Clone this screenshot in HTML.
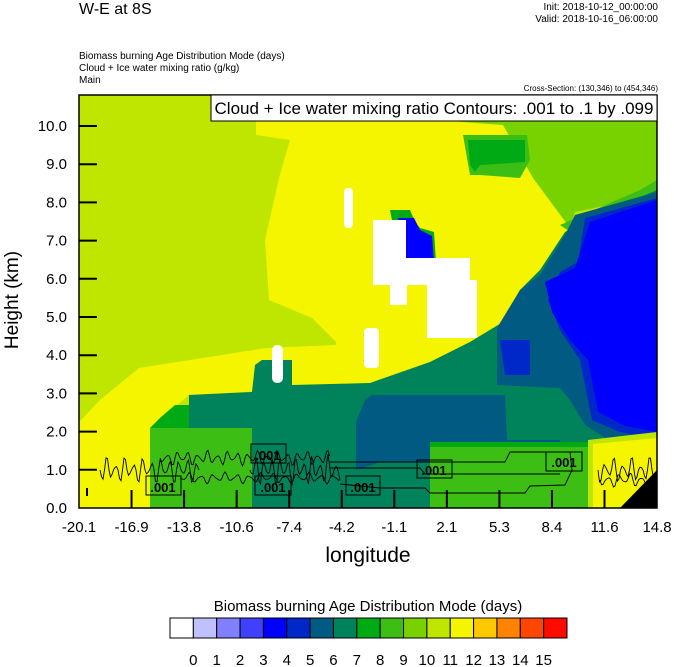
<!DOCTYPE html>
<html><head><meta charset="utf-8"><style>
html,body{margin:0;padding:0;background:#fff;}
svg{display:block;font-family:"Liberation Sans",Arial,sans-serif;}
</style></head><body>
<svg id="s" width="674" height="667" viewBox="0 0 674 667" xmlns="http://www.w3.org/2000/svg">
<text x="79" y="14" font-size="16">W-E at 8S</text>
<text x="658" y="10" font-size="10" text-anchor="end">Init: 2018-10-12_00:00:00</text>
<text x="658" y="22" font-size="10" text-anchor="end">Valid: 2018-10-16_06:00:00</text>
<text x="79" y="59" font-size="10">Biomass burning Age Distribution Mode    (days)</text>
<text x="79" y="71" font-size="10">Cloud + Ice water mixing ratio    (g/kg)</text>
<text x="79" y="83" font-size="10">Main</text>
<text x="658" y="91" font-size="8" text-anchor="end">Cross-Section: (130,346) to (454,346)</text>
<defs><clipPath id="cp"><rect x="79" y="95" width="578" height="413"/></clipPath></defs>
<g clip-path="url(#cp)">
<rect x="79" y="95" width="578" height="413" fill="#bee600"/>
<polygon fill="#f5f500" points="256,120 503,120 533,178 570,228 570,262 537,275 517,295 503,322 470,342 430,362 370,385 189,395 150,428 150,508 79,508 79,422 100,400 139,368 266,348 336,345 336,342 312,318 269,300 265,240 279,178 290,140 256,135"/>
<polygon fill="#bee600" points="269,330 300,332 312,340 269,348"/>
<polygon fill="#78d200" points="450,121 657,121 657,195 575,212 570,228 533,178 503,125"/>
<polygon fill="#3cbe14" points="463,135 527,135 530,160 520,178 480,175 470,175"/>
<polygon fill="#00aa14" points="468,140 525,140 525,162 480,165 475,172 470,165"/>
<polygon fill="#78d200" points="630,121 657,121 657,140 640,140"/>
<polygon fill="#3cbe14" points="560,225 640,190 657,180 657,210 575,235"/>
<polygon fill="#00825a" points="189,395 252,392 255,365 262,360 292,360 292,385 370,383 430,362 470,342 503,322 520,290 540,270 565,232 610,210 657,190 657,508 252,508 252,428 189,428"/>
<polygon fill="#00aa14" points="150,428 189,428 189,405 175,405 160,418"/>
<polygon fill="#3cbe14" points="150,428 252,428 252,508 150,508"/>
<polygon fill="#005a82" points="575,215 657,192 657,445 612,442 585,425 570,400 560,388 497,385 497,328 520,290 540,275 565,235"/>
<polygon fill="#0028c8" points="585,218 657,198 657,440 620,432 592,420 580,360 560,330 548,300 560,272 578,262"/>
<polygon fill="#0000ff" points="590,222 657,200 657,432 625,426 598,412 588,360 570,340 552,312 545,282 575,268"/>
<polygon fill="#0028c8" points="500,340 530,340 530,375 505,375"/>
<polygon fill="#005a82" points="356,422 365,400 372,395 505,395 507,440 560,440 562,458 440,458 430,462 380,462 356,470"/>
<polygon fill="#00aa14" points="430,442 593,442 593,450 430,450"/>
<polygon fill="#3cbe14" points="430,447 593,447 593,508 430,508"/>
<polygon fill="#bee600" points="588,440 657,432 657,508 588,508"/>
<polygon fill="#f5f500" points="593,444 657,438 657,508 593,508"/>
<polygon fill="#000" points="657,470 657,508 620,508"/>
<rect x="344" y="188" width="9" height="40" rx="4" fill="#fff"/>
<polygon fill="#00aa14" points="390,210 410,210 415,222 420,228 434,232 436,262 405,262 405,220 392,220"/>
<polygon fill="#0000ff" points="398,218 414,218 420,230 432,236 434,262 405,262"/>
<rect x="373" y="220" width="33" height="48" fill="#fff"/>
<rect x="373" y="258" width="97" height="27" fill="#fff"/>
<rect x="390" y="280" width="17" height="25" fill="#fff"/>
<rect x="427" y="280" width="50" height="58" fill="#fff"/>
<rect x="364" y="328" width="15" height="40" rx="4" fill="#fff"/>
<rect x="272" y="345" width="11" height="38" rx="5" fill="#fff"/>
<path id="ct" fill="none" stroke="#000" stroke-width="0.9"/>
</g>
<rect x="79" y="95" width="578" height="413" fill="none" stroke="#000" stroke-width="1.5"/>
<rect x="211" y="95" width="446" height="26" fill="#fff" stroke="#000" stroke-width="1"/>
<text x="434" y="114" font-size="17" text-anchor="middle">Cloud + Ice water mixing ratio Contours: .001 to .1 by .099</text>
<g id="ax" stroke="#000" stroke-width="2"></g>
<g id="lb" font-size="15"></g>
<g font-size="13" font-weight="bold" stroke-width="1">
<rect x="146" y="476" width="35" height="19" fill="none" stroke="#000"/><text x="163" y="492" text-anchor="middle">.001</text>
<rect x="251" y="444" width="35" height="19" fill="none" stroke="#000"/><text x="268" y="460" text-anchor="middle">.001</text>
<rect x="255" y="476" width="36" height="19" fill="none" stroke="#000"/><text x="273" y="492" text-anchor="middle">.001</text>
<rect x="346" y="476" width="34" height="19" fill="none" stroke="#000"/><text x="363" y="492" text-anchor="middle">.001</text>
<rect x="417" y="460" width="35" height="18" fill="none" stroke="#000"/><text x="434" y="475" text-anchor="middle">.001</text>
<rect x="546" y="452" width="36" height="19" fill="none" stroke="#000"/><text x="564" y="467" text-anchor="middle">.001</text>
</g>
<text x="368" y="562" font-size="21" text-anchor="middle">longitude</text>
<text transform="translate(18,300) rotate(-90)" font-size="19" text-anchor="middle">Height (km)</text>
<text x="368" y="611" font-size="15" text-anchor="middle">Biomass burning Age Distribution Mode  (days)</text>
<g id="cb"></g>
</svg>
<script>
var NS="http://www.w3.org/2000/svg";
function el(p,t,a,txt){var e=document.createElementNS(NS,t);for(var k in a)e.setAttribute(k,a[k]);if(txt!==undefined)e.textContent=txt;p.appendChild(e);return e;}
var ax=document.getElementById('ax'),lb=document.getElementById('lb');
for(var k=0;k<=10;k++){var y=508-k*38.2;if(k>0)el(ax,'line',{x1:79,x2:97,y1:y,y2:y});el(lb,'text',{x:67,y:y+5,'text-anchor':'end'},k.toFixed(1));}
var xl=["-20.1","-16.9","-13.8","-10.6","-7.4","-4.2","-1.1","2.1","5.3","8.4","11.6","14.8"];
for(var i=0;i<12;i++){var x=79+i*52.55;if(i>0&&i<11)el(ax,'line',{x1:x,x2:x,y1:508,y2:490});el(lb,'text',{x:x,y:532,'text-anchor':'middle'},xl[i]);}
el(ax,'line',{x1:87,x2:87,y1:488,y2:496});
var cols=["#ffffff","#c0c0ff","#8080ff","#4040ff","#0000ff","#0028c8","#005a82","#00825a","#00aa14","#3cbe14","#78d200","#bee600","#f5f500","#ffc800","#ff8200","#ff4600","#ff0a00"];
var cb=document.getElementById('cb'),w=397/17;
for(var i=0;i<17;i++)el(cb,'rect',{x:170+i*w,y:618,width:w,height:20,fill:cols[i],stroke:'#000','stroke-width':1});
for(var i=1;i<=16;i++)el(cb,'text',{x:170+i*w,y:665,'font-size':15,'text-anchor':'middle'},String(i-1));
// contours
var d="";
function wave(x0,x1,yc,amp,per){var s="M"+x0+","+yc;for(var x=x0;x<=x1;x+=1.5){var a=amp*(0.6+0.4*Math.sin(x*0.37));s+=" L"+x.toFixed(1)+","+(yc+a*Math.sin((x-x0)*2*Math.PI/per)).toFixed(1);}return s;}
d+=wave(100,200,470,14,9);
d+=wave(160,330,458,8,10);
d+=wave(180,340,478,6,12);
d+=wave(250,340,470,16,8);
d+=" M330,462 L505,462 L510,452 L570,452 L572,470 L565,485 L530,486 L525,493 L430,493 L425,488 L380,488 L340,484";
d+=" M330,468 L420,468 L425,474 L560,474";
d+=wave(598,655,470,14,9);
d+=wave(600,650,480,8,11);
document.getElementById('ct').setAttribute('d',d);
</script>
</body></html>
